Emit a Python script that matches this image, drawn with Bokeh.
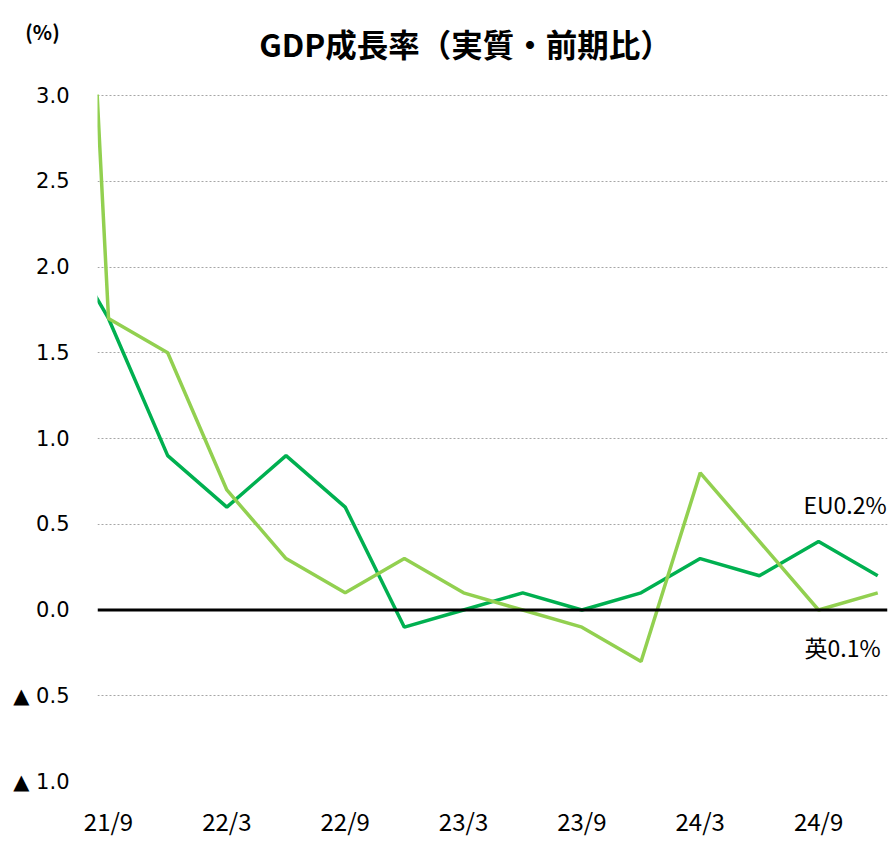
from bokeh.plotting import figure
from bokeh.models import FixedTicker, Label, Span, Range1d
from bokeh.embed import file_html
from bokeh.resources import INLINE

quarters = ["21/6", "21/9", "21/12", "22/3", "22/6", "22/9", "22/12", "23/3",
            "23/6", "23/9", "23/12", "24/3", "24/6", "24/9", "24/12"]
eu = [2.3, 1.7, 0.9, 0.6, 0.9, 0.6, -0.1, 0.0, 0.1, 0.0, 0.1, 0.3, 0.2, 0.4, 0.2]
uk = [8.5, 1.7, 1.5, 0.7, 0.3, 0.1, 0.3, 0.1, 0.0, -0.1, -0.3, 0.8, 0.4, 0.0, 0.1]
x_tick_labels = ["21/9", "22/3", "22/9", "23/3", "23/9", "24/3", "24/9"]
y_ticks = [-1.0, -0.5, 0.0, 0.5, 1.0, 1.5, 2.0, 2.5, 3.0]
y_tick_labels = ["▲ 1.0", "▲ 0.5", "0.0", "0.5", "1.0", "1.5", "2.0", "2.5", "3.0"]
title_text = "GDP成長率（実質・前期比）"
unit_text = "(%)"
eu_note = "EU0.2%"
uk_note = "英0.1%"

W = 888
HEAD_H = 80

# header with title and unit (separate root, pixel-like coordinates)
head = figure(width=W, height=HEAD_H, output_backend="svg", toolbar_location=None,
              x_range=Range1d(0, W), y_range=Range1d(0, HEAD_H),
              x_axis_type=None, y_axis_type=None, min_border=0)
head.outline_line_color = None
head.grid.visible = False
head.add_layout(Label(x=465, y=HEAD_H - 42, text=title_text, text_align="center",
                      text_baseline="middle", text_font="Noto Sans CJK JP",
                      text_font_style="bold", text_font_size="31.5px", text_color="black"))
head.add_layout(Label(x=42, y=HEAD_H - 31, text=unit_text, text_align="center",
                      text_baseline="middle", text_font="Noto Sans CJK JP",
                      text_font_style="bold", text_font_size="20px", text_color="black"))

base = quarters.index("21/9")
xs = [i - base for i in range(len(quarters))]

p = figure(width=W, height=760, output_backend="svg", toolbar_location=None,
           x_range=Range1d(-0.186, 13.165), y_range=Range1d(-1.0, 3.006),
           min_border_left=97, min_border_top=14, min_border_bottom=46, min_border_right=1)
p.outline_line_color = None
p.background_fill_color = "white"

p.xgrid.visible = False
p.ygrid.ticker = FixedTicker(ticks=[t for t in y_ticks if t != 0.0])
p.ygrid.grid_line_color = "#a6a6a6"
p.ygrid.grid_line_dash = "2 2"
p.ygrid.grid_line_width = 1

p.yaxis.ticker = FixedTicker(ticks=y_ticks)
p.yaxis.major_label_overrides = {t: l for t, l in zip(y_ticks, y_tick_labels)}
p.yaxis.axis_line_color = None
p.yaxis.major_tick_line_color = None
p.yaxis.minor_tick_line_color = None
p.yaxis.major_label_standoff = 22
p.yaxis.major_label_text_font = "DejaVu Sans"
p.yaxis.major_label_text_font_size = "21px"
p.yaxis.major_label_text_color = "black"

xt = [quarters.index(l) - base for l in x_tick_labels]
p.xaxis.ticker = FixedTicker(ticks=xt)
p.xaxis.major_label_overrides = {t: l for t, l in zip(xt, x_tick_labels)}
p.xaxis.axis_line_color = None
p.xaxis.major_tick_line_color = None
p.xaxis.minor_tick_line_color = None
p.xaxis.major_label_standoff = 15
p.xaxis.major_label_text_font = "Noto Sans CJK JP"
p.xaxis.major_label_text_font_size = "24px"
p.xaxis.major_label_text_color = "black"

p.add_layout(Span(location=0, dimension="width", line_color="black", line_width=3))

p.line(xs, eu, line_color="#00B050", line_width=3.5)
p.line(xs, uk, line_color="#92D050", line_width=3.5)

p.add_layout(Label(x=13.15, y=0.618, text=eu_note, text_align="right",
                   text_baseline="middle", text_font="Noto Sans CJK JP",
                   text_font_size="23px", text_color="black"))
p.add_layout(Label(x=13.05, y=-0.217, text=uk_note, text_align="right",
                   text_baseline="middle", text_font="Noto Sans CJK JP",
                   text_font_size="23px", text_color="black"))

open("out.html", "w").write(file_html([head, p], INLINE))
